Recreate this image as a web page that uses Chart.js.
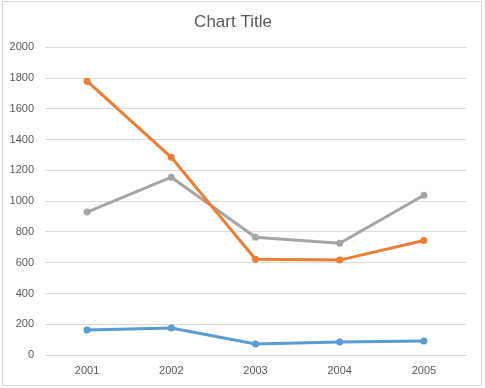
<!DOCTYPE html>
<html>
<head>
<meta charset="utf-8">
<script src="https://cdn.jsdelivr.net/npm/chart.js@4"></script>
<style>
  html, body { margin: 0; padding: 0; background: #fff; }
  canvas { display: block; }
</style>
</head>
<body>
<canvas id="line-chart" width="485" height="388"></canvas>
<script>
// data
const years = ['2001', '2002', '2003', '2004', '2005'];
const series1 = [162, 175, 71, 84, 91];
const series2 = [1780, 1285, 623, 617, 745];
const series3 = [929, 1156, 766, 727, 1039];
const yTicks = [0, 200, 400, 600, 800, 1000, 1200, 1400, 1600, 1800, 2000];

const textColor = '#595959';
const gridColor = '#d9d9d9';

// thin frame round the chart, like the excel chart border
const frame = {
  id: 'frame',
  afterDraw(chart) {
    const c = chart.ctx;
    c.save();
    c.strokeStyle = gridColor;
    c.lineWidth = 1;
    c.strokeRect(2.5, 1.5, 479, 384);
    c.restore();
  }
};

function makeSet(label, data, color) {
  return {
    label: label,
    data: data,
    borderColor: color,
    backgroundColor: color,
    borderWidth: 3,
    pointRadius: 3.5,
    pointHoverRadius: 3.5,
    pointBorderWidth: 0,
    tension: 0,
    fill: false
  };
}

const ctx = document.getElementById('line-chart').getContext('2d');
const lineChart = new Chart(ctx, {
  type: 'line',
  data: {
    labels: years,
    datasets: [
      makeSet('Series1', series1, '#5B9BD5'),
      makeSet('Series2', series2, '#ED7D31'),
      makeSet('Series3', series3, '#A5A5A5')
    ]
  },
  options: {
    responsive: false,
    animation: false,
    layout: { padding: { left: 0, right: 19, top: 0, bottom: 0 } },
    plugins: {
      legend: { display: false },
      tooltip: { enabled: false },
      title: {
        display: true,
        text: 'Chart Title',
        color: textColor,
        font: { family: 'Liberation Sans', size: 17, weight: 'normal' },
        padding: { top: 12, bottom: 15 }
      }
    },
    scales: {
      x: {
        offset: true,
        grid: { display: false, drawTicks: false },
        border: { display: true, color: gridColor, width: 1 },
        ticks: {
          color: textColor,
          font: { family: 'Liberation Sans', size: 11 },
          padding: 9
        },
        afterFit(scale) { scale.height = 33; }
      },
      y: {
        min: 0,
        max: 2000,
        afterBuildTicks(scale) {
          scale.ticks = yTicks.map(v => ({ value: v }));
        },
        grid: { color: gridColor, drawTicks: false },
        border: { display: false },
        ticks: {
          color: textColor,
          font: { family: 'Liberation Sans', size: 11 },
          padding: 11,
          callback: v => String(v)
        },
        afterFit(scale) { scale.width = 45; }
      }
    }
  },
  plugins: [frame]
});
</script>
</body>
</html>
